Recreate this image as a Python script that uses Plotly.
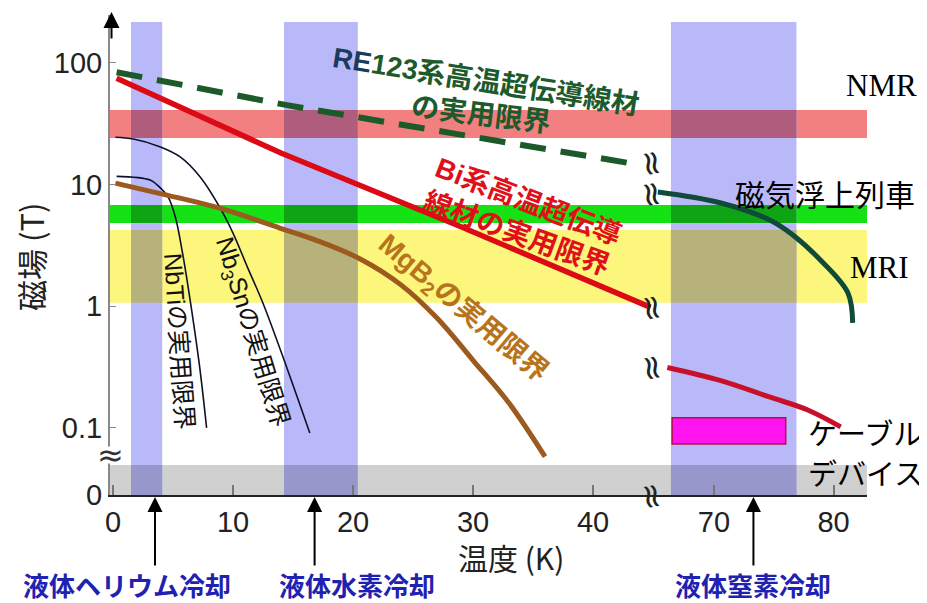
import math
import plotly.graph_objects as go

# ---------------- data ----------------
# Temperature axis is broken between 45 K and 65 K
x_left_range = [-0.25, 45.1]
x_right_range = [65.0, 82.8]
x_left_ticks = [0, 10, 20, 30, 40]
x_right_ticks = [70, 80]

# Field axis (log) with a break below 0.1 T; "0" drawn at the bottom
y_tick_vals = [0.0281, 0.1, 1, 10, 100]
y_tick_text = ["0", "0.1", "1", "10", "100"]
y_range_T = [0.0281, 248.0]

# RE123 coated conductors
re123_low_K = [0.3, 14.5, 28.7, 44.0]
re123_low_T = [84, 45, 26, 14.5]
re123_high_K = [65.3, 70.5, 74.7, 76.6, 78.9, 81.2, 81.6]
re123_high_T = [8.7, 7.1, 5.1, 3.86, 2.4, 1.29, 0.73]

# Bi-based HTS wires
bi_low_K = [0.3, 14.0, 29.0, 44.8]
bi_low_T = [75, 18.2, 4.5, 0.98]
bi_high_K = [66.1, 70.5, 74.7, 77.8, 80.6]
bi_high_T = [0.314, 0.246, 0.179, 0.141, 0.102]

# MgB2
mgb2_K = [0.2, 4.5, 8.9, 13.9, 17.0, 20.6, 24.0, 27.0, 30.0, 33.0, 36.0]
mgb2_T = [10.3, 8.2, 6.4, 4.4, 3.47, 2.45, 1.5, 0.8, 0.36, 0.16, 0.058]

# NbTi
nbti_K = [0.3, 3.1, 3.9, 4.6, 5.2, 5.75, 6.3, 7.2, 7.8]
nbti_T = [11.7, 10.9, 9.5, 7.9, 5.4, 2.9, 1.36, 0.33, 0.1]

# Nb3Sn
nb3sn_K = [0.2, 1.7, 3.9, 5.6, 7.25, 8.9, 10.0, 11.2, 12.5, 14.5, 16.4]
nb3sn_T = [24.5, 23.7, 20.5, 16.9, 11.6, 6.5, 4.0, 2.1, 1.06, 0.31, 0.091]

# application field bands (T)
app_names = ["NMR", "磁気浮上列車", "MRI", "low"]
app_lo_T = [24.2, 4.83, 1.07, 0.0281]
app_hi_T = [41.0, 6.8, 4.24, 0.0496]
app_rgb = [(242, 128, 128), (20, 226, 20), (252, 246, 125), (208, 208, 208)]

# cooling temperature bands (K)
cool_names = ["液体ヘリウム冷却", "液体水素冷却", "液体窒素冷却"]
cool_lo_K = [1.5, 14.25, 66.4]
cool_hi_K = [4.1, 20.4, 76.9]
cool_axis = ["x", "x", "x2"]
cool_top_T = 217.0
cool_rgb = (185, 185, 250)
cool_arrow_K = [3.5, 16.8, 73.3]

# cable / device region
cable_K = [66.5, 76.0]
cable_T = [0.0738, 0.121]

# ---------------- layout geometry ----------------
OFF = 8                      # page body margin
W, H = 927 - OFF, 603 - OFF
ML, MR, MT, MB = 110 - OFF, 60, 15 - OFF, 108
PW, PH = W - ML - MR, H - MT - MB
SPLIT = (45.1 - x_left_range[0]) * 12.0 / PW

def P(px, py):
    """page pixel -> paper coords"""
    return (px - OFF - ML) / PW, (H - MB - (py - OFF)) / PH

def lg(v):
    return math.log10(v)

def rgb(c):
    return "rgb(%d,%d,%d)" % c

def mul(a, b):
    return tuple(round(p * q / 255) for p, q in zip(a, b))

SANS = "Liberation Sans, Noto Sans CJK JP, sans-serif"
CJK = "Noto Sans CJK JP, Liberation Sans, sans-serif"
SERIF = "Liberation Serif, serif"

fig = go.Figure()

def line(xs, ys, axis, color, width, dash="solid", shape="spline"):
    fig.add_trace(go.Scatter(
        x=xs, y=ys, xaxis=axis, yaxis="y", mode="lines",
        line=dict(color=color, width=width, dash=dash, shape=shape),
        hoverinfo="skip", showlegend=False))

line(nbti_K, nbti_T, "x", "#10102a", 1.6)
line(nb3sn_K, nb3sn_T, "x", "#10102a", 1.6)
line(mgb2_K, mgb2_T, "x", "#9c5a1e", 5)
line(bi_low_K, bi_low_T, "x", "#dc0a14", 5.5, shape="linear")
line(re123_low_K, re123_low_T, "x", "#1d5a2a", 6, dash="26px,15px", shape="linear")
line(re123_high_K, re123_high_T, "x2", "#0f4a3a", 5)
line(bi_high_K, bi_high_T, "x2", "#c8102a", 5)

# ---------------- shapes ----------------
shapes = []
for lo, hi, c in zip(app_lo_T, app_hi_T, app_rgb):
    shapes.append(dict(type="rect", xref="paper", yref="y", x0=0, x1=1,
                       y0=lo, y1=hi, fillcolor=rgb(c),
                       line=dict(width=0), layer="below"))
for lo, hi, ax in zip(cool_lo_K, cool_hi_K, cool_axis):
    shapes.append(dict(type="rect", xref=ax, yref="y", x0=lo, x1=hi,
                       y0=y_range_T[0], y1=cool_top_T,
                       fillcolor=rgb(cool_rgb), line=dict(width=0), layer="below"))
    # overlap areas rendered as a multiply blend
    for blo, bhi, c in zip(app_lo_T, app_hi_T, app_rgb):
        shapes.append(dict(type="rect", xref=ax, yref="y", x0=lo, x1=hi,
                           y0=blo, y1=bhi, fillcolor=rgb(mul(c, cool_rgb)),
                           line=dict(width=0), layer="below"))
shapes.append(dict(type="rect", xref="x2", yref="y", x0=cable_K[0], x1=cable_K[1],
                   y0=cable_T[0], y1=cable_T[1], fillcolor="#ff14f0",
                   line=dict(color="#b0104a", width=1.5), layer="above"))

# ---------------- annotations ----------------
ann = []

def text(px, py, s, size, color="#111", angle=0, family=CJK):
    x, y = P(px, py)
    ann.append(dict(xref="paper", yref="paper", x=x, y=y, text=s, showarrow=False,
                    textangle=angle, xanchor="center", yanchor="middle",
                    font=dict(size=size, color=color, family=family)))

# curve labels
text(486, 82, "<b><span style='color:#1b3a5c'>RE</span>123系高温超伝導線材</b>", 28, "#1d5a2c", 9, SANS)
text(481, 114, "<b>の実用限界</b>", 28, "#1d5a2c", 7, SANS)
text(528, 202, "<b>Bi系高温超伝導</b>", 28, "#e0101a", 21, SANS)
text(517, 233, "<b>線材の実用限界</b>", 28, "#e0101a", 20, SANS)
text(463, 309, "<b>MgB<sub>2</sub>の実用限界</b>", 28, "#b8741c", 40, SANS)
text(179, 341, "NbTiの実用限界", 25, "#111", 86, SANS)
text(251, 332, "Nb<sub>3</sub>Snの実用限界", 25, "#111", 73, SANS)

# application labels
text(882, 85, "NMR", 31, "#000", 0, SERIF)
text(825, 193, "磁気浮上列車", 30, "#000", 0, CJK)
text(879, 267, "MRI", 31, "#000", 0, SERIF)
text(865, 432, "ケーブル", 29, "#000", 0, CJK)
text(865, 472, "デバイス", 29, "#000", 0, CJK)

# axis titles
text(30, 257, "磁場 (T)", 31, "#222", -90, CJK)
text(511, 557, "温度 (K)", 30, "#222", 0, CJK)

# cooling labels + arrows
label_px = [127, 357, 753]
for name, lx, k, ax in zip(cool_names, label_px, cool_arrow_K, cool_axis):
    text(lx, 584, "<b>" + name + "</b>", 26, "#1f22b0", 0, CJK)
    ann.append(dict(xref=ax, yref="paper", x=k, y=-0.004, ax=0, ay=70,
                    text="", showarrow=True, arrowhead=2, arrowsize=1.5,
                    arrowwidth=2, arrowcolor="#000", standoff=0))

# y-axis arrow tip
ann.append(dict(xref="paper", yref="paper", x=0.002, y=1.006, ax=0, ay=28, text="",
                showarrow=True, arrowhead=2, arrowsize=1.6, arrowwidth=2,
                arrowcolor="#000", standoff=0))

# break mark on the y axis (small white gap in the axis line + the mark)
bx, by = P(110, 455)
ann.append(dict(xref="paper", yref="paper", x=bx, y=by, text=" ", showarrow=False,
                xanchor="center", yanchor="middle", width=8, height=16,
                bgcolor="white", borderpad=0, font=dict(size=8)))
ann.append(dict(xref="paper", yref="paper", x=bx, y=by, text="≈", showarrow=False,
                xanchor="center", yanchor="middle",
                font=dict(size=32, color="#333", family="DejaVu Sans")))

# break marks at the temperature gap (at the curve ends and on the axis)
gx = SPLIT - 0.002
gap_marks = [(re123_low_T[-1], 2), (re123_high_T[0], -2), (bi_low_T[-1], 0), (bi_high_T[0], 0)]
for yv, shift in gap_marks:
    ann.append(dict(xref="paper", yref="y", x=gx, y=lg(yv), yshift=shift, text="≈",
                    showarrow=False, xanchor="center", yanchor="middle",
                    textangle=80, width=24, height=20,
                    font=dict(size=34, color="#222", family="DejaVu Sans")))
ann.append(dict(xref="paper", yref="paper", x=gx, y=-0.002, text="≈",
                showarrow=False, xanchor="center", yanchor="middle",
                textangle=80, width=24, height=20,
                font=dict(size=34, color="#222", family="DejaVu Sans")))

tickfont = dict(size=29, color="#222", family=SANS)
fig.update_layout(
    width=W, height=H, margin=dict(l=ML, r=MR, t=MT, b=MB),
    paper_bgcolor="white", plot_bgcolor="white",
    showlegend=False, shapes=shapes, annotations=ann,
    xaxis=dict(domain=[0, SPLIT], range=x_left_range, tickvals=x_left_ticks,
               ticktext=[str(v) for v in x_left_ticks], showgrid=False, zeroline=False,
               showline=True, linecolor="#222", linewidth=2, ticks="inside",
               ticklen=10, tickcolor="#777", tickwidth=1.5, tickfont=tickfont,
               ticklabelstandoff=0, anchor="y"),
    xaxis2=dict(domain=[SPLIT, 1], range=x_right_range, tickvals=x_right_ticks,
                ticktext=[str(v) for v in x_right_ticks], showgrid=False, zeroline=False,
                showline=True, linecolor="#222", linewidth=2, ticks="inside",
                ticklen=10, tickcolor="#777", tickwidth=1.5, tickfont=tickfont,
                ticklabelstandoff=0, anchor="y"),
    yaxis=dict(type="log", range=[lg(y_range_T[0]), lg(y_range_T[1])],
               tickvals=y_tick_vals, ticktext=y_tick_text, showgrid=False,
               zeroline=False, showline=True, linecolor="#888", linewidth=2,
               ticks="inside", ticklen=6, tickcolor="#888", tickfont=tickfont,
               ticklabelstandoff=0, anchor="x"),
)

fig.write_html("out.html")
